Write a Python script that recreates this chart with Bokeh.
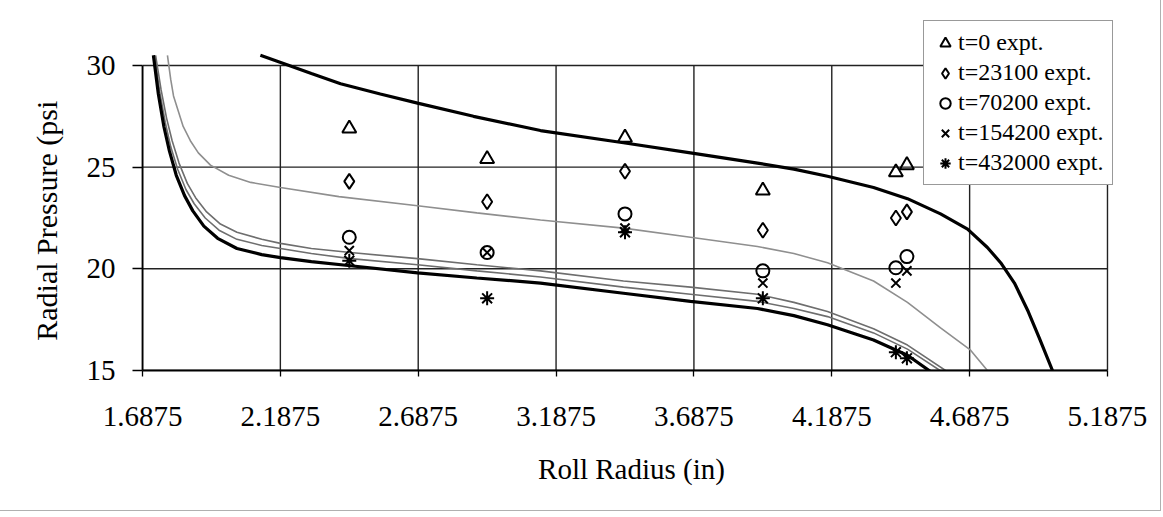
from bokeh.plotting import figure
from bokeh.models import FixedTicker, CustomJSTickFormatter, Legend, LegendItem, Range1d
from bokeh.embed import file_html
from bokeh.resources import INLINE

# ---- data ----
x_ticks = [1.6875, 2.1875, 2.6875, 3.1875, 3.6875, 4.1875, 4.6875, 5.1875]
y_ticks = [15, 20, 25, 30]

# experimental points
r_expt = [2.4375, 2.9375, 3.4375, 3.9375, 4.42, 4.46]
p_t0 = [26.9, 25.4, 26.45, 23.85, 24.75, 25.1]
p_t23100 = [24.3, 23.3, 24.8, 21.9, 22.5, 22.8]
p_t70200 = [21.55, 20.8, 22.7, 19.9, 20.05, 20.6]
p_t154200 = [20.9, 20.8, 22.0, 19.3, 19.3, 19.9]
p_t432000 = [20.4, 18.55, 21.8, 18.55, 15.9, 15.6]

# model curves (thick upper, thin grey, two grey, thick lower)
r_m0 = [2.115, 2.199, 2.3, 2.406, 2.55, 2.685, 2.888, 3.131, 3.432, 3.675, 3.918, 4.05,
        4.172, 4.339, 4.462, 4.582, 4.68, 4.752, 4.80, 4.85, 4.90, 4.94, 4.988]
p_m0 = [30.5, 30.1, 29.6, 29.1, 28.6, 28.15, 27.5, 26.8, 26.2, 25.7, 25.2, 24.9,
        24.55, 24.0, 23.45, 22.7, 21.95, 21.05, 20.3, 19.3, 17.9, 16.6, 15.0]

r_m1 = [1.778, 1.79, 1.80, 1.814, 1.835, 1.861, 1.89, 1.934, 2.0, 2.08, 2.188, 2.4, 2.685,
        2.9, 3.131, 3.432, 3.675, 3.918, 4.05, 4.172, 4.339, 4.462, 4.582, 4.691, 4.752]
p_m1 = [30.5, 29.3, 28.5, 27.9, 27.0, 26.3, 25.7, 25.1, 24.6, 24.25, 24.0, 23.55, 23.1,
        22.75, 22.4, 22.0, 21.55, 21.1, 20.75, 20.3, 19.4, 18.35, 17.1, 16.0, 15.0]

r_m2 = [1.735, 1.755, 1.775, 1.795, 1.82, 1.85, 1.88, 1.92, 1.97, 2.03, 2.12, 2.188, 2.3,
        2.442, 2.685, 2.9, 3.131, 3.432, 3.675, 3.918, 4.05, 4.172, 4.339, 4.462, 4.60]
p_m2 = [30.5, 28.8, 27.4, 26.3, 25.2, 24.2, 23.5, 22.8, 22.2, 21.8, 21.45, 21.25, 21.0,
        20.8, 20.5, 20.2, 19.9, 19.4, 19.1, 18.75, 18.35, 17.9, 17.05, 16.25, 15.0]

r_m3 = [1.731, 1.75, 1.77, 1.79, 1.815, 1.845, 1.875, 1.915, 1.965, 2.03, 2.12, 2.188, 2.3,
        2.442, 2.685, 2.9, 3.131, 3.432, 3.675, 3.918, 4.05, 4.172, 4.339, 4.462, 4.58]
p_m3 = [30.5, 28.7, 27.2, 26.0, 24.9, 23.9, 23.2, 22.5, 21.9, 21.45, 21.15, 21.0, 20.75,
        20.5, 20.2, 19.9, 19.6, 19.1, 18.75, 18.4, 18.05, 17.65, 16.85, 16.05, 15.0]

r_m4 = [1.727, 1.745, 1.765, 1.785, 1.81, 1.84, 1.87, 1.91, 1.96, 2.03, 2.12, 2.188, 2.3,
        2.442, 2.685, 2.9, 3.131, 3.432, 3.675, 3.918, 4.05, 4.172, 4.339, 4.462, 4.556]
p_m4 = [30.5, 28.6, 27.0, 25.8, 24.6, 23.6, 22.85, 22.1, 21.5, 21.0, 20.7, 20.55, 20.35,
        20.15, 19.8, 19.55, 19.3, 18.8, 18.4, 18.05, 17.7, 17.25, 16.5, 15.75, 14.85]

labels = ["t=0 expt.", "t=23100 expt.", "t=70200 expt.", "t=154200 expt.", "t=432000 expt."]

FONT = "Liberation Serif"
X_LO, X_HI = x_ticks[0], x_ticks[-1]
Y_LO, Y_HI = y_ticks[0], y_ticks[-1]
Y_TOP = 32.31   # extra room above the plot box for the legend
X_RIGHT = 5.2347  # extra room right of the plot box for the legend

p = figure(frame_width=978, frame_height=352,
           min_border_left=142, min_border_right=40, min_border_top=18, min_border_bottom=140,
           x_range=Range1d(X_LO, X_RIGHT), y_range=Range1d(Y_LO, Y_TOP),
           output_backend="svg", toolbar_location=None,
           background_fill_color="white", border_fill_color="white",
           styles={"box-shadow": "0 0 0 1px #b0b0b0"})

p.outline_line_color = None
p.xgrid.grid_line_color = None
p.ygrid.grid_line_color = None

# grid lines limited to the plot box
GRID = dict(line_color="#222222", line_width=1.4)
p.segment(x0=x_ticks, y0=[Y_LO] * len(x_ticks), x1=x_ticks, y1=[Y_HI] * len(x_ticks), **GRID)
p.segment(x0=[X_LO] * len(y_ticks), y0=y_ticks, x1=[X_HI] * len(y_ticks), y1=y_ticks, **GRID)

# axes
p.xaxis.ticker = FixedTicker(ticks=x_ticks)
p.yaxis.ticker = FixedTicker(ticks=y_ticks)
p.xaxis.bounds = (X_LO, X_HI)
p.yaxis.bounds = (Y_LO, Y_HI)
p.xaxis.formatter = CustomJSTickFormatter(code="return tick.toFixed(4);")
for ax in (p.xaxis[0], p.yaxis[0]):
    ax.axis_line_color = "black"
    ax.axis_line_width = 1.8
    ax.major_tick_line_color = "black"
    ax.major_tick_line_width = 1.3
    ax.major_tick_in = 0
    ax.minor_tick_line_color = None
    ax.major_label_text_font = FONT
    ax.major_label_text_font_size = "29px"
    ax.major_label_text_color = "black"
    ax.axis_label_text_font = FONT
    ax.axis_label_text_font_size = "29px"
    ax.axis_label_text_font_style = "normal"
    ax.axis_label_text_color = "black"
p.yaxis.axis_label_text_font_size = "30px"
p.xaxis.major_tick_out = 6
p.yaxis.major_tick_out = 10
p.xaxis.major_label_standoff = 30
p.yaxis.major_label_standoff = 17
p.xaxis.axis_label = "Roll Radius (in)"
# trailing no-break spaces keep the label centred on the 15-30 box, not on the taller frame
p.yaxis.axis_label = "Radial Pressure (psi" + "\u00a0" * 7
p.xaxis.axis_label_standoff = 24
p.yaxis.axis_label_standoff = 21

# model curves
p.line(r_m1, p_m1, line_color="#8f8f8f", line_width=1.6)
p.line(r_m2, p_m2, line_color="#6e6e6e", line_width=1.6)
p.line(r_m3, p_m3, line_color="#6e6e6e", line_width=1.6)
p.line(r_m0, p_m0, line_color="black", line_width=3.2)
p.line(r_m4, p_m4, line_color="black", line_width=3.2)

# experimental markers
kw = dict(fill_color=None, line_color="black", line_width=2)
s0 = p.scatter(r_expt, p_t0, marker="triangle", size=14, **kw)
s1 = p.scatter(r_expt, p_t23100, marker="diamond", size=15, **kw)
s2 = p.scatter(r_expt, p_t70200, marker="circle", size=13, **kw)
s3 = p.scatter(r_expt, p_t154200, marker="x", size=13, **kw)
s4 = p.scatter(r_expt, p_t432000, marker="asterisk", size=14, **kw)

legend = Legend(items=[LegendItem(label=l, renderers=[r]) for l, r in zip(labels, [s0, s1, s2, s3, s4])],
                location=(781, 185))
legend.label_text_font = FONT
legend.label_text_font_size = "24px"
legend.label_text_color = "black"
legend.label_height = 26
legend.glyph_height = 26
legend.glyph_width = 26
legend.label_standoff = 0
legend.spacing = 3
legend.padding = 8
legend.margin = 0
legend.border_line_color = "#333333"
legend.border_line_width = 1.5
legend.background_fill_color = "white"
legend.background_fill_alpha = 1
p.add_layout(legend, "center")

open("out.html", "w").write(file_html(p, INLINE))
